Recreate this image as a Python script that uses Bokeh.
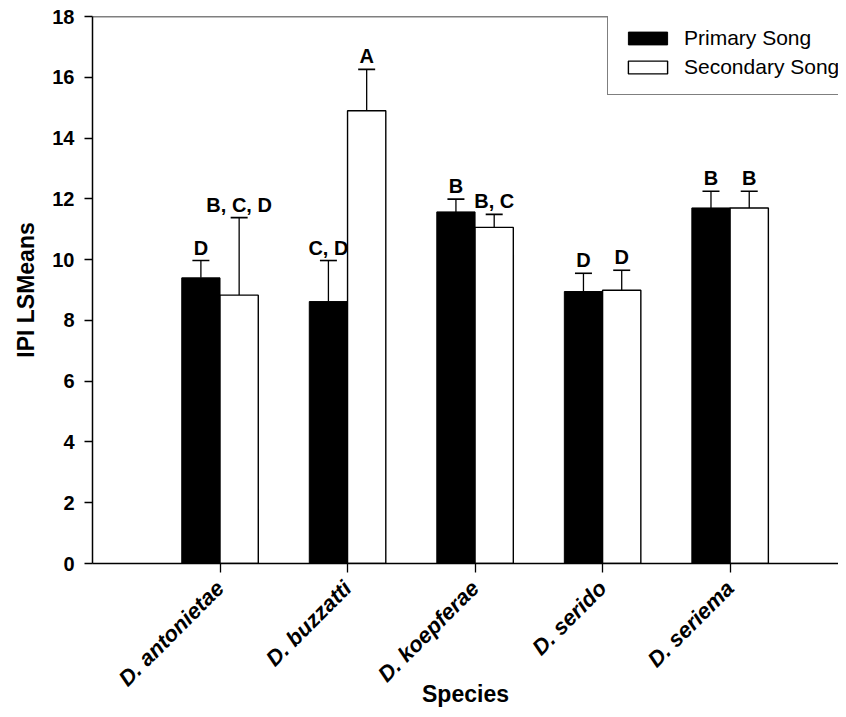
import math
from bokeh.plotting import figure
from bokeh.models import (ColumnDataSource, FixedTicker, Whisker, TeeHead, Legend,
                          LegendItem, Span, Range1d)
from bokeh.core.properties import value
from bokeh.embed import file_html
from bokeh.resources import INLINE

species = ["D. antonietae", "D. buzzatti", "D. koepferae", "D. serido", "D. seriema"]
primary_mean = [9.4, 8.62, 11.57, 8.95, 11.7]
primary_err = [0.57, 1.35, 0.42, 0.6, 0.55]
primary_letters = ["D", "C, D", "B", "D", "B"]
secondary_mean = [8.83, 14.9, 11.06, 8.99, 11.7]
secondary_err = [2.55, 1.36, 0.43, 0.66, 0.55]
secondary_letters = ["B, C, D", "A", "B, C", "D", "B"]
y_ticks = [0, 2, 4, 6, 8, 10, 12, 14, 16, 18]

FONT = "Liberation Sans"
idx = list(range(1, len(species) + 1))
bw = 0.3

def make_src(means, errs, letters, shift):
    xs = [i + shift for i in idx]
    return ColumnDataSource(dict(
        x=xs, top=means,
        upper=[m + e for m, e in zip(means, errs)],
        letters=letters,
    ))

src_p = make_src(primary_mean, primary_err, primary_letters, -bw / 2)
src_s = make_src(secondary_mean, secondary_err, secondary_letters, bw / 2)

p = figure(width=838, height=709, output_backend="svg", toolbar_location=None,
           x_range=Range1d(0, 5.85), y_range=Range1d(0, 18),
           min_border_left=92, min_border_top=16, min_border_bottom=140,
           min_border_right=0)
p.outline_line_color = None
p.grid.visible = False
p.background_fill_color = "white"
p.border_fill_color = "white"

r_p = p.vbar(x="x", top="top", bottom=0, width=bw, source=src_p,
             fill_color="black", line_color="black", line_width=1)
r_s = p.vbar(x="x", top="top", bottom=0, width=bw, source=src_s,
             fill_color="white", line_color="black", line_width=1.4)

for src in (src_p, src_s):
    w = Whisker(base="x", lower="top", upper="upper", source=src,
                line_color="black", line_width=1.3,
                upper_head=TeeHead(size=17, line_color="black", line_width=1.6),
                lower_head=None)
    p.add_layout(w)
    p.text(x="x", y="upper", text="letters", source=src,
           text_align="center", text_baseline="bottom", y_offset=-2,
           text_font=value(FONT), text_font_style="bold",
           text_font_size="20px", text_color="black")

p.add_layout(Span(location=18, dimension="width", line_color="black", line_width=1.5))

# y axis
p.yaxis.ticker = FixedTicker(ticks=y_ticks)
p.yaxis.minor_tick_line_color = None
p.yaxis.major_tick_out = 8
p.yaxis.major_tick_in = 0
p.yaxis.major_label_standoff = 10
p.yaxis.major_label_text_font = FONT
p.yaxis.major_label_text_font_style = "bold"
p.yaxis.major_label_text_font_size = "20px"
p.yaxis.major_label_text_color = "black"
p.yaxis.axis_label = "IPI LSMeans"
p.yaxis.axis_label_text_font = FONT
p.yaxis.axis_label_text_font_style = "bold"
p.yaxis.axis_label_text_font_size = "23px"
p.yaxis.axis_label_text_color = "black"
p.yaxis.axis_label_standoff = 10
p.yaxis.axis_line_width = 1.5
p.yaxis.major_tick_line_width = 1.3

# x axis
p.xaxis.ticker = FixedTicker(ticks=idx)
p.xaxis.major_label_overrides = {i: s for i, s in zip(idx, species)}
p.xaxis.major_label_orientation = math.pi / 4
p.xaxis.minor_tick_line_color = None
p.xaxis.major_tick_out = 9
p.xaxis.major_tick_in = 0
p.xaxis.major_label_standoff = 12
p.xaxis.major_label_text_font = FONT
p.xaxis.major_label_text_font_style = "bold italic"
p.xaxis.major_label_text_font_size = "22px"
p.xaxis.major_label_text_color = "black"
p.xaxis.axis_label = "Species"
p.xaxis.axis_label_text_font = FONT
p.xaxis.axis_label_text_font_style = "bold"
p.xaxis.axis_label_text_font_size = "23px"
p.xaxis.axis_label_text_color = "black"
p.xaxis.axis_label_standoff = -22
p.xaxis.axis_line_width = 1.5
p.xaxis.major_tick_line_width = 1.3

legend = Legend(items=[LegendItem(label="Primary Song", renderers=[r_p]),
                       LegendItem(label="Secondary Song", renderers=[r_s])],
                location=(515, 468), orientation="vertical",
                glyph_width=49, glyph_height=16, label_height=24,
                spacing=5, padding=15, margin=0, label_standoff=12,
                label_text_font=FONT, label_text_font_size="21px",
                label_text_color="black",
                border_line_color="black", border_line_width=1.3,
                background_fill_alpha=1.0, background_fill_color="white")
p.add_layout(legend)

open("out.html", "w").write(file_html(p, INLINE))
